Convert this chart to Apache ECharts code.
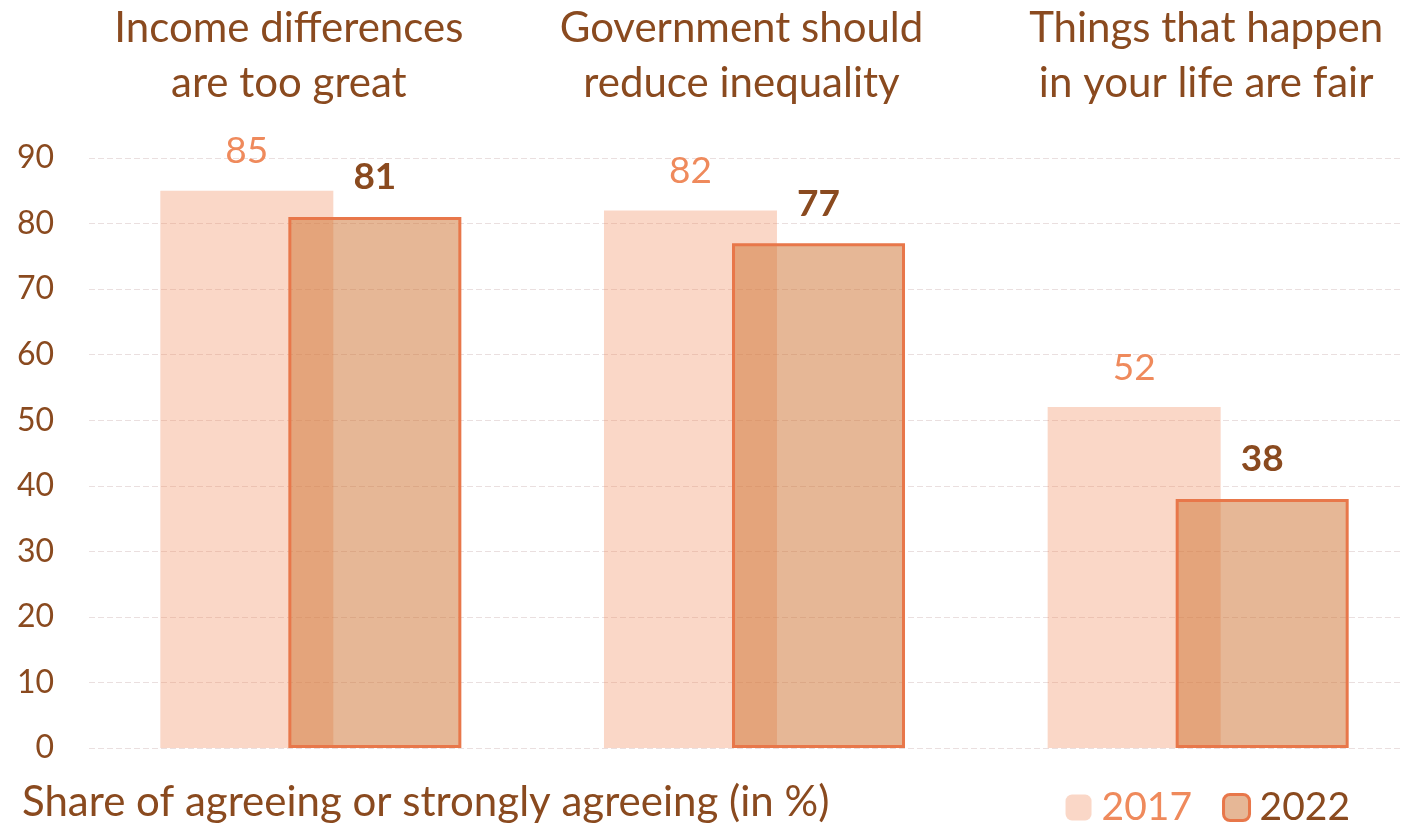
<!DOCTYPE html>
<html>
<head>
<meta charset="utf-8">
<style>
  html, body { margin: 0; padding: 0; background: #ffffff; }
  #chart { width: 1402px; height: 837px; }
</style>
<script src="https://cdn.jsdelivr.net/npm/echarts@6/dist/echarts.min.js"></script>
</head>
<body>
<div id="chart"></div>
<script>
// Survey statements (category titles drawn above the plot)
const categories = [
  'Income differences\nare too great',
  'Government should\nreduce inequality',
  'Things that happen\nin your life are fair'
];
// Share agreeing or strongly agreeing, in %
const values2017 = [85, 82, 52];
const values2022 = [81, 77, 38];
const seriesNames = ['2017', '2022'];
const yTicks = { min: 0, max: 90, step: 10 };
const footnote = 'Share of agreeing or strongly agreeing (in %)';

const FONT = 'Lato, "Noto Sans", sans-serif';
const BROWN = '#8A4A1F';
const SALMON = '#EF8A5C';
const FILL17 = 'rgba(240,137,90,0.34)';
const FILL22 = 'rgba(207,117,53,0.52)';
const EDGE22 = '#E8774A';

// Horizontal nudges for the statement titles (padding around the centred text)
const titlePadding = [[0, 44, 0, 0], [0, 26, 0, 0], [0, 0, 0, 16]];

const chart = echarts.init(document.getElementById('chart'), null, { renderer: 'canvas' });

chart.setOption({
  animation: false,
  backgroundColor: '#ffffff',
  grid: {
    left: 89, top: 158, width: 1331, height: 590,
    containLabel: false, outerBoundsMode: 'none'
  },
  title: {
    text: footnote,
    left: 17,
    top: 776,
    textStyle: { fontFamily: FONT, fontSize: 42, fontWeight: 'normal', color: BROWN }
  },
  legend: {
    right: 47,
    top: 783,
    itemWidth: 26,
    itemHeight: 26,
    itemGap: 30,
    textStyle: { fontFamily: FONT, fontSize: 39, padding: [0, 0, 0, 5] },
    data: [
      { name: seriesNames[0], textStyle: { color: SALMON },
        itemStyle: { color: FILL17, borderWidth: 0 } },
      { name: seriesNames[1], textStyle: { color: BROWN },
        itemStyle: { color: FILL22, borderColor: EDGE22, borderWidth: 3 } }
    ]
  },
  xAxis: {
    type: 'category',
    position: 'top',
    data: categories.map((c, i) => ({ value: c, textStyle: { padding: titlePadding[i] } })),
    axisLine: { show: false },
    axisTick: { show: false },
    splitLine: { show: false },
    axisLabel: {
      interval: 0,
      margin: 47,
      fontFamily: FONT,
      fontSize: 42,
      lineHeight: 55,
      color: BROWN
    }
  },
  yAxis: {
    type: 'value',
    min: yTicks.min,
    max: yTicks.max,
    interval: yTicks.step,
    axisLine: { show: false },
    axisTick: { show: false },
    axisLabel: { margin: 35, fontFamily: FONT, fontSize: 32, color: BROWN },
    splitLine: { lineStyle: { color: '#EADFDF', width: 1, type: [6, 3] } }
  },
  series: [
    {
      name: seriesNames[0],
      type: 'bar',
      data: values2017,
      barWidth: 173,
      barGap: '-26%',
      z: 2,
      itemStyle: { color: FILL17 },
      label: {
        show: true,
        position: 'top',
        distance: 21,
        fontFamily: FONT,
        fontSize: 37,
        color: SALMON
      }
    },
    {
      name: seriesNames[1],
      type: 'bar',
      data: values2022,
      barWidth: 173,
      z: 3,
      itemStyle: { color: FILL22, borderColor: EDGE22, borderWidth: 3 },
      label: {
        show: true,
        position: 'top',
        distance: 21,
        fontFamily: FONT,
        fontSize: 37,
        fontWeight: 'bold',
        color: BROWN
      }
    }
  ]
});
</script>
</body>
</html>
